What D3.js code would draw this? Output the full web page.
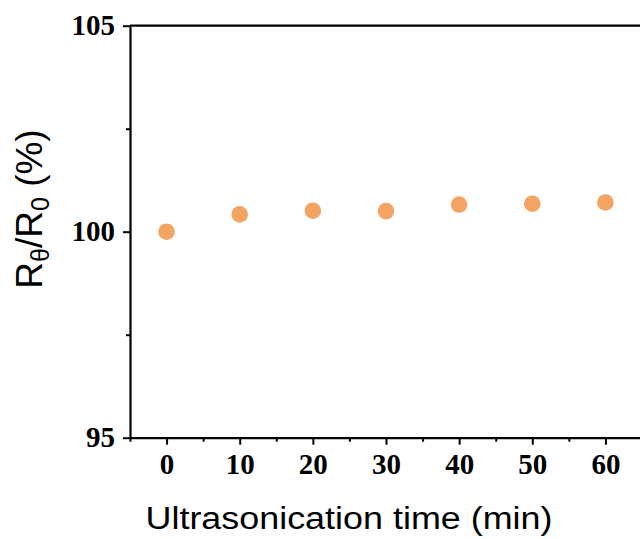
<!DOCTYPE html>
<html>
<head>
<meta charset="utf-8">
<script src="https://cdn.jsdelivr.net/npm/d3@7"></script>
<style>
  html, body { margin: 0; padding: 0; background: #fff; overflow: hidden; }
  svg { display: block; }
</style>
</head>
<body>
<svg id="chart" width="640" height="539"></svg>
<script>
// Resistance ratio vs. ultrasonication time
const times = [0, 10, 20, 30, 40, 50, 60];
const ratio = [100.0, 100.42, 100.51, 100.50, 100.66, 100.68, 100.71];

const xTicks = [0, 10, 20, 30, 40, 50, 60];
const xMinorTicks = [-5, 5, 15, 25, 35, 45, 55, 65];
const yTicks = [95, 100, 105];
const yMinorTicks = [97.5, 102.5];

const xTitle = "Ultrasonication time (min)";

const svg = d3.select("#chart");

const x = d3.scaleLinear().domain([-5, 65]).range([130, 642]);
const y = d3.scaleLinear().domain([95, 105]).range([437.7, 25.7]);

const axisColor = "#000";
const tickFont = "'Liberation Serif', 'Times New Roman', serif";

// frame: top and right borders
svg.append("line")
  .attr("x1", x(-5)).attr("x2", x(65))
  .attr("y1", y(105)).attr("y2", y(105))
  .attr("stroke", axisColor).attr("stroke-width", 2.2);
svg.append("line")
  .attr("x1", x(65)).attr("x2", x(65))
  .attr("y1", y(95)).attr("y2", y(105))
  .attr("stroke", axisColor).attr("stroke-width", 2.2);

// bottom axis
const gx = svg.append("g").attr("transform", `translate(0,${y(95)})`);
gx.call(d3.axisBottom(x).tickValues(xTicks).tickSize(7).tickSizeOuter(0).tickPadding(9).tickFormat(d3.format("d")));
const gxm = svg.append("g").attr("transform", `translate(0,${y(95)})`);
gxm.call(d3.axisBottom(x).tickValues(xMinorTicks).tickSize(4).tickSizeOuter(0).tickFormat(""));
gxm.select(".domain").remove();

// left axis
const gy = svg.append("g").attr("transform", `translate(${x(-5)},0)`);
gy.call(d3.axisLeft(y).tickValues(yTicks).tickSize(7).tickSizeOuter(0).tickPadding(8).tickFormat(d3.format("d")));
const gym = svg.append("g").attr("transform", `translate(${x(-5)},0)`);
gym.call(d3.axisLeft(y).tickValues(yMinorTicks).tickSize(4).tickSizeOuter(0).tickFormat(""));
gym.select(".domain").remove();

svg.selectAll(".domain").attr("stroke", axisColor).attr("stroke-width", 2.2);
svg.selectAll(".tick line").attr("stroke", axisColor).attr("stroke-width", 2);
svg.selectAll(".tick text")
  .attr("fill", "#000")
  .style("font-family", tickFont)
  .style("font-weight", "bold")
  .style("font-size", "29px");

// data points
svg.append("g").selectAll("circle")
  .data(times.map((t, i) => ({ t, v: ratio[i] })))
  .join("circle")
  .attr("cx", d => x(d.t))
  .attr("cy", d => y(d.v))
  .attr("r", 8.3)
  .attr("fill", "#F4A462");

// x axis title
svg.append("text")
  .attr("x", 349).attr("y", 528.5)
  .attr("text-anchor", "middle")
  .attr("textLength", 407)
  .attr("lengthAdjust", "spacingAndGlyphs")
  .style("font-family", "'Liberation Sans', Arial, sans-serif")
  .style("font-size", "31px")
  .attr("fill", "#000")
  .text(xTitle);

// y axis title: R_θ / R_0 (%)
const yt = svg.append("text")
  .attr("transform", "translate(42,209) rotate(-90)")
  .attr("text-anchor", "middle")
  .style("font-family", "'Liberation Sans', Arial, sans-serif")
  .style("font-size", "37px")
  .attr("fill", "#000");
yt.append("tspan").text("R");
yt.append("tspan").attr("dy", 7).style("font-size", "25px").text("θ");
yt.append("tspan").attr("dy", -7).text("/R");
yt.append("tspan").attr("dy", 7).style("font-size", "25px").text("0");
yt.append("tspan").attr("dy", -7).text(" (%)");
</script>
</body>
</html>
